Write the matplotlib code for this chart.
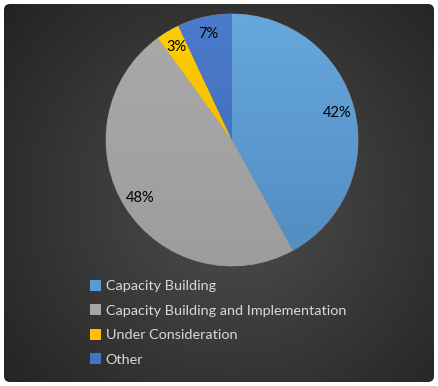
import matplotlib.pyplot as plt
import numpy as np
from matplotlib.patches import FancyBboxPatch
from matplotlib.colors import to_rgb

labels = ['Capacity Building', 'Capacity Building and Implementation',
          'Under Consideration', 'Other']
shares = [42, 48, 3, 7]
colors = ['#5B9BD5', '#A5A5A5', '#FFC000', '#4472C4']

plt.rcParams['font.family'] = ['Lato', 'DejaVu Sans']

W, H = 438, 386
fig = plt.figure(figsize=(W / 100, H / 100), dpi=100)
fig.patch.set_facecolor('white')

# dark panel with radial gradient
bg = fig.add_axes([0, 0, 1, 1])
bg.set_xlim(0, W)
bg.set_ylim(H, 0)
bg.axis('off')
yy, xx = np.mgrid[0:H, 0:W]
d = np.sqrt(((xx - 232) / 260.0) ** 2 + ((yy - 200) / 260.0) ** 2)
v = np.clip(0.31 - 0.15 * d, 0.14, 0.31)
img = bg.imshow(np.dstack([v, v, v]), extent=(0, W, H, 0), interpolation='bilinear')
panel = FancyBboxPatch((4, 4), W - 8, H - 8, boxstyle='round,pad=0,rounding_size=6',
                       facecolor='none', edgecolor='none', transform=bg.transData)
bg.add_patch(panel)
img.set_clip_path(panel)

# pie
R = 126
cx, cy = 232, 140
ax = fig.add_axes([(cx - R) / W, (H - cy - R) / H, 2 * R / W, 2 * R / H])
wedges, texts, autotexts = ax.pie(
    shares, colors=colors, startangle=90, counterclock=False, radius=1,
    autopct='%d%%', pctdistance=0.86,
    wedgeprops=dict(edgecolor='#8c8c8c', linewidth=0.5),
    textprops=dict(color='black', fontsize=10.5))
ax.set_xlim(-1, 1)
ax.set_ylim(-1, 1)
ax.set_aspect('equal')

# slight vertical gradient on each wedge
for w, c in zip(wedges, colors):
    r, g, b = to_rgb(c)
    t = np.linspace(0, 1, 100)[:, None]
    top = np.array([min(1, r * 1.12), min(1, g * 1.08), min(1, b * 1.04)])
    bot = np.array([r * 0.9, g * 0.9, b * 0.9])
    if c == '#A5A5A5':
        top = np.array([r, g, b]) * 1.03
        bot = np.array([r, g, b]) * 0.95
    grad = top[None, None, :] * (1 - t[..., None]) + bot[None, None, :] * t[..., None]
    grad = np.repeat(grad, 2, axis=1)
    im = ax.imshow(np.clip(grad, 0, 1), extent=(-1, 1, -1, 1), aspect='auto',
                   zorder=w.get_zorder() + 0.1, interpolation='bilinear')
    im.set_clip_path(w)
for tx in autotexts:
    tx.set_zorder(5)

leg = fig.legend(wedges, labels, loc='upper left', bbox_to_anchor=(84 / W, 1 - 274 / H),
                 frameon=False, fontsize=10.4, handlelength=0.8, handleheight=0.8,
                 handletextpad=0.3, labelspacing=0.83, borderaxespad=0)
for t in leg.get_texts():
    t.set_color('#d9d9d9')
for h in leg.legend_handles:
    h.set_edgecolor('none')

fig.savefig('out.png', dpi=100, facecolor='white')
